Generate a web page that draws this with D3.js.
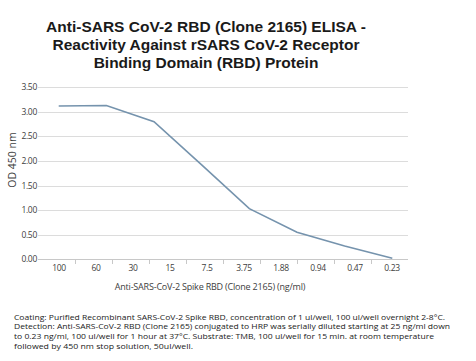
<!DOCTYPE html>
<html><head><meta charset="utf-8">
<script src="https://cdn.jsdelivr.net/npm/d3@7"></script>
<style>body{margin:0;background:#fff}svg{display:block}</style>
</head><body>
<script>
const titleLines = ["Anti-SARS CoV-2 RBD (Clone 2165) ELISA -", "Reactivity Against rSARS CoV-2 Receptor", "Binding Domain (RBD) Protein"];
const xLabels = ["100","60","30","15","7.5","3.75","1.88","0.94","0.47","0.23"];
const dilutionSteps = [1,2,3,4,5,6,7,8];
const odValues = [3.12, 3.13, 2.80, 1.92, 1.03, 0.55, 0.27, 0.02];
const yTicks = [0,0.5,1,1.5,2,2.5,3,3.5];
const xTitle = "Anti-SARS-CoV-2 Spike RBD (Clone 2165) (ng/ml)";
const yTitle = "OD 450 nm";
const notes = ["Coating: Purified Recombinant SARS-CoV-2 Spike RBD, concentration of 1 ul/well, 100 ul/well overnight 2-8°C.",
"Detection: Anti-SARS-CoV-2 RBD (Clone 2165) conjugated to HRP was serially diluted starting at 25 ng/ml down",
"to 0.23 ng/ml, 100 ul/well for 1 hour at 37°C. Substrate: TMB, 100 ul/well for 15 min. at room temperature",
"followed by 450 nm stop solution, 50ul/well."];
const noteWidths = [431, 436, 420, 179];

const W=476,H=361;
const svg=d3.select("body").append("svg").attr("width",W).attr("height",H);

const tg=svg.append("g");
titleLines.forEach((t,i)=>{
  tg.append("text").attr("x",206).attr("y",32+i*18).attr("text-anchor","middle")
    .attr("font-family","Liberation Sans, Arial, sans-serif").attr("font-weight","bold")
    .attr("font-size",15.5).attr("fill","#1a1a1a").text(t);
});

const y=d3.scaleLinear().domain([0,3.5]).range([259.3,87.3]);
const xb=d3.scaleBand().domain(xLabels).range([38,408]);
const xp=d3.scalePoint().domain(dilutionSteps).range([58.7,392.3]);

// gridlines
svg.append("g").selectAll("line").data(yTicks).join("line")
  .attr("x1",38).attr("x2",408).attr("y1",d=>Math.round(y(d))+0.5).attr("y2",d=>Math.round(y(d))+0.5)
  .attr("stroke",d=>d===0?"#c8c8c8":"#dcdcdc").attr("stroke-width",1.2);

// y labels
svg.append("g").selectAll("text").data(yTicks).join("text")
  .attr("x",37).attr("y",d=>y(d)+3).attr("text-anchor","end")
  .attr("font-family","Open Sans, sans-serif").attr("font-size",8.5).attr("fill","#404040")
  .attr("letter-spacing",-0.3)
  .text(d=>d3.format(".2f")(d));

// x ticks at category boundaries
svg.append("g").selectAll("line").data(xLabels.slice(1)).join("line")
  .attr("x1",d=>Math.round(xb(d))+0.5).attr("x2",d=>Math.round(xb(d))+0.5)
  .attr("y1",259).attr("y2",264).attr("stroke","#c8c8c8");

// x labels
svg.append("g").selectAll("text").data(xLabels).join("text")
  .attr("x",d=>xb(d)+xb.bandwidth()/2+2.5).attr("y",270.5).attr("text-anchor","middle")
  .attr("font-family","Open Sans, sans-serif").attr("font-size",8.5).attr("fill","#404040")
  .attr("letter-spacing",-0.3)
  .text(d=>d);

// line
const line=d3.line().x((d,i)=>xp(dilutionSteps[i])).y(d=>y(d));
svg.append("path").datum(odValues).attr("d",line).attr("fill","none")
  .attr("stroke","#7593ad").attr("stroke-width",1.6);

// axis titles
svg.append("text").attr("x",210).attr("y",290).attr("text-anchor","middle")
  .attr("font-family","Open Sans, sans-serif").attr("font-size",9).attr("fill","#404040")
  .attr("letter-spacing",-0.2).text(xTitle);
svg.append("text").attr("transform","translate(16,160) rotate(-90)").attr("text-anchor","middle")
  .attr("font-family","Open Sans, sans-serif").attr("font-size",10.5).attr("fill","#404040")
  .text(yTitle);

// notes
notes.forEach((t,i)=>{
  svg.append("text").attr("x",14).attr("y",319.5+i*9.7)
    .attr("font-family","Open Sans, sans-serif").attr("font-size",8).attr("fill","#1a1a1a")
    .attr("textLength",noteWidths[i]).attr("lengthAdjust","spacingAndGlyphs").text(t);
});
</script>
</body></html>
